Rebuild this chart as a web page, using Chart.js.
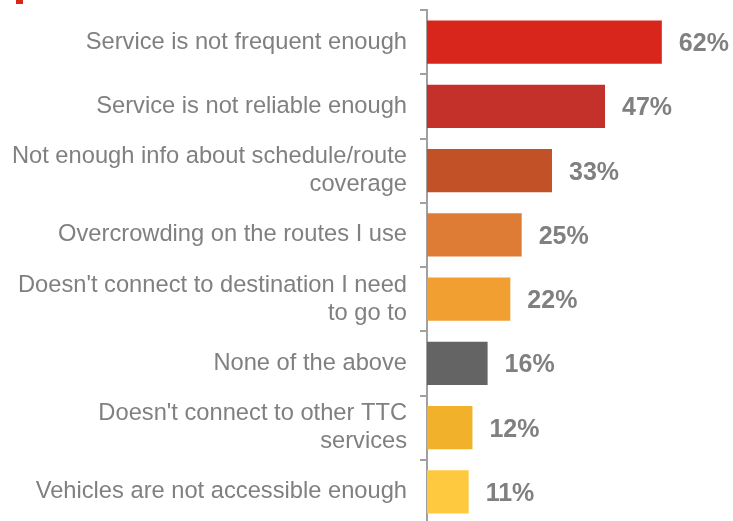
<!DOCTYPE html>
<html>
<head>
<meta charset="utf-8">
<script src="https://cdn.jsdelivr.net/npm/chart.js@4.4.1/dist/chart.umd.min.js"></script>
<style>
  html, body { margin: 0; padding: 0; background: #ffffff; overflow: hidden; }
  #wrap { position: relative; width: 733px; height: 521px; overflow: hidden; }
  #mark { position: absolute; left: 16px; top: 0; width: 7px; height: 4px; background: #d9261c; }
  canvas { position: absolute; left: 0; top: 0; }
</style>
</head>
<body>
<div id="wrap">
  <canvas id="c" width="733" height="534"></canvas>
  <div id="mark"></div>
</div>
<script>
const categories = [
  'Service is not frequent enough',
  'Service is not reliable enough',
  ['Not enough info about schedule/route', 'coverage'],
  'Overcrowding on the routes I use',
  ["Doesn't connect to destination I need", 'to go to'],
  'None of the above',
  ["Doesn't connect to other TTC", 'services'],
  'Vehicles are not accessible enough'
];
const values = [62, 47, 33, 25, 22, 16, 12, 11];
const barColors = ['#d9261c', '#c4312b', '#c25127', '#de7c36', '#f29f31', '#646464', '#f1b12a', '#fec93f'];

const valueLabels = {
  id: 'valueLabels',
  afterDatasetsDraw(chart) {
    const ctx = chart.ctx;
    const meta = chart.getDatasetMeta(0);
    ctx.save();
    ctx.font = 'bold 25px "Liberation Sans", Arial, sans-serif';
    ctx.fillStyle = '#808080';
    ctx.textAlign = 'left';
    ctx.textBaseline = 'middle';
    meta.data.forEach((bar, i) => {
      ctx.fillText(values[i] + '%', bar.x + 17, bar.y + 2);
    });
    ctx.restore();
  }
};

new Chart(document.getElementById('c'), {
  type: 'bar',
  data: {
    labels: categories,
    datasets: [{
      data: values,
      backgroundColor: barColors,
      borderWidth: 0,
      barPercentage: 0.67,
      categoryPercentage: 1.0
    }]
  },
  options: {
    indexAxis: 'y',
    responsive: false,
    animation: false,
    devicePixelRatio: 1,
    layout: { padding: { top: 10, right: 3, bottom: 10, left: 0 } },
    plugins: { legend: { display: false }, tooltip: { enabled: false } },
    scales: {
      x: { display: false, min: 0, max: 80 },
      y: {
        afterFit(scale) { scale.width = 427; scale.paddingTop = 0; scale.paddingBottom = 0; },
        border: { display: true, color: '#a0a0a0', width: 2 },
        grid: { drawOnChartArea: false, drawTicks: true, tickLength: 7, color: '#a0a0a0', lineWidth: 2, offset: true },
        ticks: {
          padding: 13,
          color: '#808080',
          font: { family: '"Liberation Sans", Arial, sans-serif', size: 23.7, lineHeight: 1.18 }
        }
      }
    }
  },
  plugins: [valueLabels]
});
</script>
</body>
</html>
